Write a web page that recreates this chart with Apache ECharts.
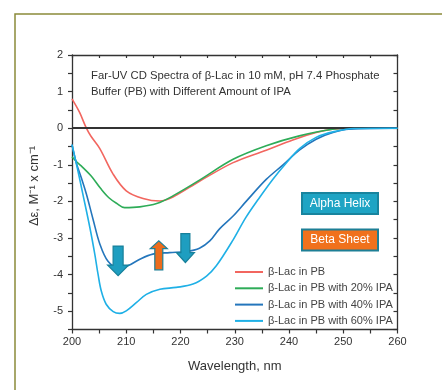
<!DOCTYPE html>
<html><head><meta charset="utf-8">
<script src="https://cdn.jsdelivr.net/npm/echarts@6/dist/echarts.min.js"></script>
<style>html,body{margin:0;padding:0;background:#fff}#c{width:442px;height:390px}</style>
</head><body><div id="c"></div>
<script>
// ---- data ----
const seriesNames = ['β-Lac in PB', 'β-Lac in PB with 20% IPA', 'β-Lac in PB with 40% IPA', 'β-Lac in PB with 60% IPA'];
const xTicks = [200, 210, 220, 230, 240, 250, 260];
const yTicks = [-5, -4, -3, -2, -1, 0, 1, 2];

const pbX = [200, 201.4, 202.65, 203.5, 205.1, 207.6, 210.0, 213.1, 216.2, 218.6, 223.5, 229.7, 235.8, 240.7, 245.0, 248, 252, 260];
const pbY = [0.8, 0.43, 0, -0.22, -0.55, -1.26, -1.71, -1.92, -1.99, -1.88, -1.45, -0.94, -0.6, -0.32, -0.12, -0.03, 0, 0];

const ipa20X = [200, 200.8, 201.7, 203.5, 205.3, 206.8, 208.2, 209.7, 212.5, 215.6, 218.6, 223.5, 229.7, 235.8, 241.9, 248, 252, 260];
const ipa20Y = [-0.78, -0.91, -1.03, -1.3, -1.65, -1.9, -2.05, -2.17, -2.15, -2.06, -1.85, -1.42, -0.85, -0.48, -0.21, -0.03, 0, 0];

const ipa40X = [200, 200.8, 201.7, 202.65, 203.9, 205.1, 206.6, 208.5, 210.3, 212.5, 214.9, 218.0, 221.1, 223.5, 225.4, 227.2, 229.7, 232.1, 235.8, 238.9, 241.9, 245.0, 248.1, 251, 260];
const ipa40Y = [-0.45, -0.95, -1.35, -1.8, -2.5, -3.15, -3.63, -3.81, -3.76, -3.58, -3.44, -3.40, -3.37, -3.28, -3.08, -2.75, -2.4, -2.0, -1.4, -1.0, -0.6, -0.3, -0.12, -0.03, 0];

const ipa60X = [200, 201, 202.0, 203.3, 204.2, 204.8, 205.4, 206.3, 207.6, 208.8, 210.0, 211.9, 213.7, 216.2, 219.2, 222.3, 224.8, 226.6, 229.7, 232.0, 234.3, 237.0, 239.5, 242.0, 245.0, 248.1, 252, 260];
const ipa60Y = [-0.45, -1.1, -1.8, -2.72, -3.44, -3.99, -4.45, -4.81, -5.01, -5.06, -4.99, -4.76, -4.54, -4.40, -4.35, -4.26, -4.04, -3.76, -3.05, -2.45, -1.95, -1.4, -0.95, -0.55, -0.25, -0.1, -0.01, 0];

// arrow annotations: wavelength, shaft start value, head base value, tip value
const arrowX = [208.5, 216.0, 220.9];
const arrowStart = [-3.22, -3.87, -2.88];
const arrowHeadBase = [-3.74, -3.29, -3.4];
const arrowTip = [-4.03, -3.08, -3.67];

// ---- chart ----
const colors = ['#f2665f', '#2eac58', '#2476bc', '#1fb0e6'];
const zip = (xs, ys) => xs.map((x, i) => [x, ys[i]]);
const xsAll = [pbX, ipa20X, ipa40X, ipa60X];
const ysAll = [pbY, ipa20Y, ipa40Y, ipa60Y];
const FONT = 'Liberation Sans, Arial, sans-serif';
const axisCol = '#333';

const chart = echarts.init(document.getElementById('c'), null, {renderer: 'canvas'});

const series = seriesNames.map((n, i) => ({
  name: n, type: 'line', data: zip(xsAll[i], ysAll[i]), smooth: 0.35,
  symbol: 'none', showSymbol: false,
  lineStyle: {color: colors[i], width: 1.6}, itemStyle: {color: colors[i]},
  z: 3 + i,
  markLine: i === 0 ? {silent: true, symbol: 'none', label: {show: false},
    lineStyle: {color: '#333', width: 2, type: 'solid'}, data: [{yAxis: 0}]} : undefined
}));

chart.setOption({
  animation: false,
  backgroundColor: '#fff',
  grid: {left: 72, right: 44.5, top: 55, bottom: 60.5},
  legend: {
    orient: 'vertical', left: 230, top: 260, itemGap: 2.3,
    icon: 'rect', itemWidth: 28, itemHeight: 2,
    textStyle: {fontSize: 11, color: '#444', fontFamily: FONT, lineHeight: 14},
    data: seriesNames
  },
  xAxis: [{
    type: 'value', min: 200, max: 260, interval: 5, position: 'bottom',
    axisLine: {show: true, onZero: false, lineStyle: {color: axisCol, width: 1.3}},
    axisTick: {show: true, inside: false, length: 4, lineStyle: {color: axisCol, width: 1.2}},
    axisLabel: {formatter: v => xTicks.includes(v) ? String(v) : '', color: '#333', fontSize: 11, margin: 7, fontFamily: FONT},
    splitLine: {show: false},
    name: 'Wavelength, nm', nameLocation: 'middle', nameGap: 30,
    nameTextStyle: {fontSize: 13, color: '#333', fontFamily: FONT}
  }, {
    type: 'value', min: 200, max: 260, interval: 5, position: 'top',
    axisLine: {show: true, onZero: false, lineStyle: {color: axisCol, width: 1.3}},
    axisTick: {show: true, inside: true, length: 3, lineStyle: {color: axisCol, width: 1.2}},
    axisLabel: {show: false}, splitLine: {show: false}
  }],
  yAxis: [{
    type: 'value', min: -5.5, max: 2, interval: 0.5, position: 'left',
    axisLine: {show: true, onZero: false, lineStyle: {color: axisCol, width: 1.3}},
    axisTick: {show: true, inside: false, length: 4, lineStyle: {color: axisCol, width: 1.2}},
    axisLabel: {formatter: v => yTicks.includes(v) ? String(v) : '', color: '#333', fontSize: 11, margin: 9, fontFamily: FONT},
    splitLine: {show: false}
  }, {
    type: 'value', min: -5.5, max: 2, interval: 0.5, position: 'right',
    axisLine: {show: true, onZero: false, lineStyle: {color: axisCol, width: 1.3}},
    axisTick: {show: true, inside: true, length: 4, lineStyle: {color: axisCol, width: 1.2}},
    axisLabel: {show: false}, splitLine: {show: false}
  }],
  series: series
});

// arrows converted from data coordinates
const arrowFill = ['#1e9ec0', '#ec6c1c', '#1e9ec0'];
const arrowStroke = ['#17809a', '#1d7f96', '#17809a'];
const arrowShaftHalf = [5, 4, 4.5];
const arrowHeadHalf = [10.5, 8.5, 9];
const arrowEls = arrowX.map((x, i) => {
  const p0 = chart.convertToPixel({xAxisIndex: 0, yAxisIndex: 0}, [x, arrowStart[i]]);
  const p1 = chart.convertToPixel({xAxisIndex: 0, yAxisIndex: 0}, [x, arrowHeadBase[i]]);
  const p2 = chart.convertToPixel({xAxisIndex: 0, yAxisIndex: 0}, [x, arrowTip[i]]);
  const cx = p0[0], s = arrowShaftHalf[i], h = arrowHeadHalf[i];
  return {
    type: 'polygon', z: 20,
    shape: {points: [[cx - s, p0[1]], [cx + s, p0[1]], [cx + s, p1[1]], [cx + h, p1[1]], [cx, p2[1]], [cx - h, p1[1]], [cx - s, p1[1]]]},
    style: {fill: arrowFill[i], stroke: arrowStroke[i], lineWidth: 1.2}
  };
});

chart.setOption({
  graphic: [
    {type: 'rect', z: -1, silent: true, shape: {x: 15, y: 14, width: 600, height: 600},
     style: {fill: 'none', stroke: '#8b8a3a', lineWidth: 1.5}},
    {type: 'text', z: 10, x: 91, y: 68.5,
     style: {text: 'Far-UV CD Spectra of β-Lac in 10 mM, pH 7.4 Phosphate\nBuffer (PB) with Different Amount of IPA',
       fontSize: 11.3, lineHeight: 15.7, fill: '#333', fontFamily: FONT}},
    {type: 'text', z: 10, x: 34, y: 186, rotation: Math.PI / 2,
     style: {text: 'Δε, M⁻¹ x cm⁻¹', fontSize: 13, fill: '#333', fontFamily: FONT, align: 'center', verticalAlign: 'middle'}},
    {type: 'rect', z: 20, shape: {x: 302, y: 193, width: 76, height: 21},
     style: {fill: '#1ea4c4', stroke: '#18849e', lineWidth: 2}},
    {type: 'text', z: 21, x: 340, y: 203.5,
     style: {text: 'Alpha Helix', fontSize: 12, fill: '#fff', fontFamily: FONT, align: 'center', verticalAlign: 'middle'}},
    {type: 'rect', z: 20, shape: {x: 302, y: 229.5, width: 76, height: 21},
     style: {fill: '#f0711c', stroke: '#1d7f96', lineWidth: 2}},
    {type: 'text', z: 21, x: 340, y: 240,
     style: {text: 'Beta Sheet', fontSize: 12, fill: '#fff', fontFamily: FONT, align: 'center', verticalAlign: 'middle'}}
  ].concat(arrowEls)
});
</script>
</body></html>
